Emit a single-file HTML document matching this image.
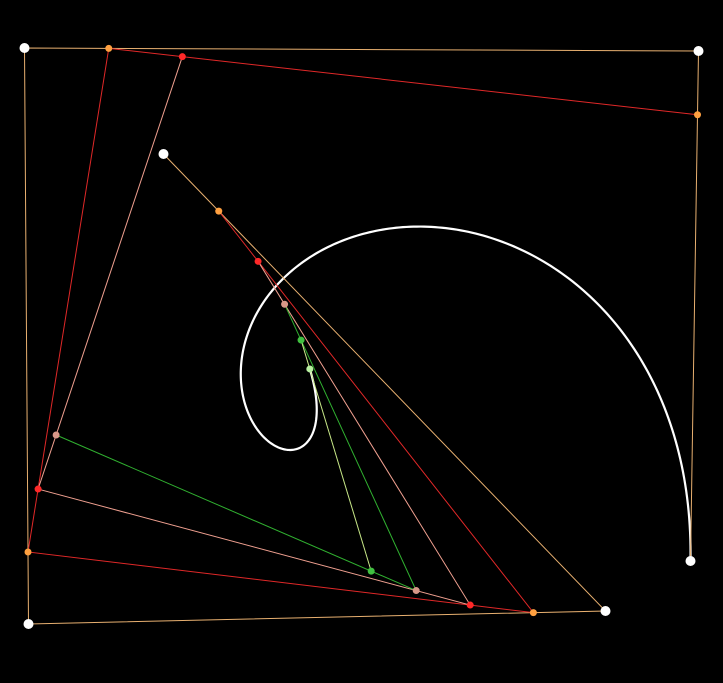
<!DOCTYPE html>
<html><head><meta charset="utf-8"><style>html,body{margin:0;padding:0;background:#000;}svg{display:block;}</style></head>
<body>
<svg id="chart" width="723" height="683" viewBox="0 0 723 683" xmlns="http://www.w3.org/2000/svg">
<rect width="723" height="683" fill="#000"/>
<g id="plot" transform="translate(0.5,1)"></g>
</svg>
<script>
const ctrlX = [690, 698, 24, 28, 605, 163];
const ctrlY = [560, 50, 47, 623, 610, 153];
const tValue = 0.875;
const lineColors = ['#e8b070', '#e02828', '#f0a090', '#30b030', '#c8e888'];
const pointColors = ['#ffffff', '#ffa040', '#ff2828', '#d89888', '#40c040', '#b8f0a0'];

const svg = document.getElementById('plot');
const NS = 'http://www.w3.org/2000/svg';
function lerp(a, b, t) { return a + (b - a) * t; }
function deCasteljau(xs, ys, t) {
  const levels = [[xs.slice(), ys.slice()]];
  let cx = xs.slice(), cy = ys.slice();
  while (cx.length > 1) {
    const nx = [], ny = [];
    for (let i = 0; i < cx.length - 1; i++) { nx.push(lerp(cx[i], cx[i+1], t)); ny.push(lerp(cy[i], cy[i+1], t)); }
    levels.push([nx, ny]); cx = nx; cy = ny;
  }
  return levels;
}
const levels = deCasteljau(ctrlX, ctrlY, tValue);

let pts = [];
for (let i = 0; i <= 300; i++) {
  const t = tValue * i / 300;
  const lv = deCasteljau(ctrlX, ctrlY, t);
  const last = lv[lv.length - 1];
  pts.push(last[0][0].toFixed(2) + ',' + last[1][0].toFixed(2));
}
const curve = document.createElementNS(NS, 'polyline');
curve.setAttribute('points', pts.join(' '));
curve.setAttribute('fill', 'none');
curve.setAttribute('stroke', '#fff');
curve.setAttribute('stroke-width', '2.2');


svg.appendChild(curve);

levels.forEach((lv, k) => {
  if (lv[0].length < 2) return;
  const pl = document.createElementNS(NS, 'polyline');
  pl.setAttribute('points', lv[0].map((x, i) => x + ',' + lv[1][i]).join(' '));
  pl.setAttribute('fill', 'none');
  pl.setAttribute('stroke', lineColors[k]);
  pl.setAttribute('stroke-width', '1');
  
  
  svg.appendChild(pl);
});
levels.forEach((lv, k) => {
  lv[0].forEach((x, i) => {
    const c = document.createElementNS(NS, 'circle');
    c.setAttribute('cx', x);
    c.setAttribute('cy', lv[1][i]);
    c.setAttribute('r', k === 0 ? 5 : 3.5);
    c.setAttribute('fill', pointColors[k]);
    
    
    svg.appendChild(c);
  });
});
</script>
</body></html>
